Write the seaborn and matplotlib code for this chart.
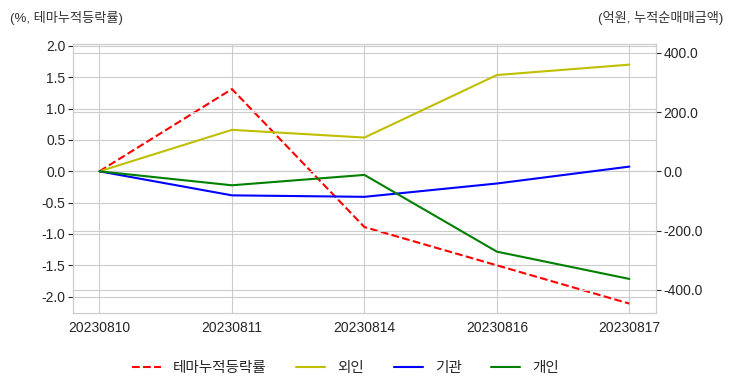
import numpy as np
import pandas as pd
import seaborn as sns
import matplotlib.pyplot as plt
from matplotlib.ticker import FormatStrFormatter, MultipleLocator

dates = ['20230810', '20230811', '20230814', '20230816', '20230817']
theme_rate = [0.0, 1.31, -0.89, -1.50, -2.11]
foreign = [0.0, 140.0, 114.0, 325.0, 360.0]
institution = [0.0, -81.0, -86.0, -41.0, 16.0]
individual = [0.0, -47.0, -12.0, -271.0, -363.0]

sns.set_style('whitegrid')
plt.rcParams['font.family'] = ['Liberation Sans', 'Noto Sans CJK KR', 'DejaVu Sans']
plt.rcParams['axes.unicode_minus'] = False

df = pd.DataFrame({'date': dates, 'theme': theme_rate, 'foreign': foreign,
                   'inst': institution, 'indiv': individual})

fig = plt.figure(figsize=(7.32, 3.92), dpi=100)
ax = fig.add_axes([0.0997, 0.2015, 0.7963, 0.6865])
sns.lineplot(data=df, x='date', y='theme', ax=ax, color='r', linestyle='--',
             lw=1.5, label='테마누적등락률', legend=False)
ax.set_ylim(-2.26, 2.03)
ax.yaxis.set_major_locator(MultipleLocator(0.5))
ax.yaxis.set_major_formatter(FormatStrFormatter('%.1f'))
ax.set_xlabel('')
ax.set_ylabel('')

ax2 = ax.twinx()
sns.lineplot(data=df, x='date', y='foreign', ax=ax2, color='y', lw=1.5, label='외인', legend=False)
sns.lineplot(data=df, x='date', y='inst', ax=ax2, color='b', lw=1.5, label='기관', legend=False)
sns.lineplot(data=df, x='date', y='indiv', ax=ax2, color='g', lw=1.5, label='개인', legend=False)
ax2.set_ylim(-478, 430)
ax2.yaxis.set_major_locator(MultipleLocator(200))
ax2.yaxis.set_major_formatter(FormatStrFormatter('%.1f'))
ax2.set_ylabel('')
ax.set_xlim(-0.2, 4.2)

for a in (ax, ax2):
    a.tick_params(labelsize=10, pad=2)

fig.text(0.013, 0.955, '(%, 테마누적등락률)', fontsize=9.5, color='#333333', va='center')
fig.text(0.988, 0.955, '(억원, 누적순매매금액)', fontsize=9.5, color='#333333', va='center', ha='right')

h1, l1 = ax.get_legend_handles_labels()
h2, l2 = ax2.get_legend_handles_labels()
fig.legend(h1 + h2, l1 + l2, loc='center', bbox_to_anchor=(0.472, 0.06), ncol=4,
           frameon=False, fontsize=10.5, columnspacing=2.0, handletextpad=0.85)

fig.savefig('out.png', dpi=100)
